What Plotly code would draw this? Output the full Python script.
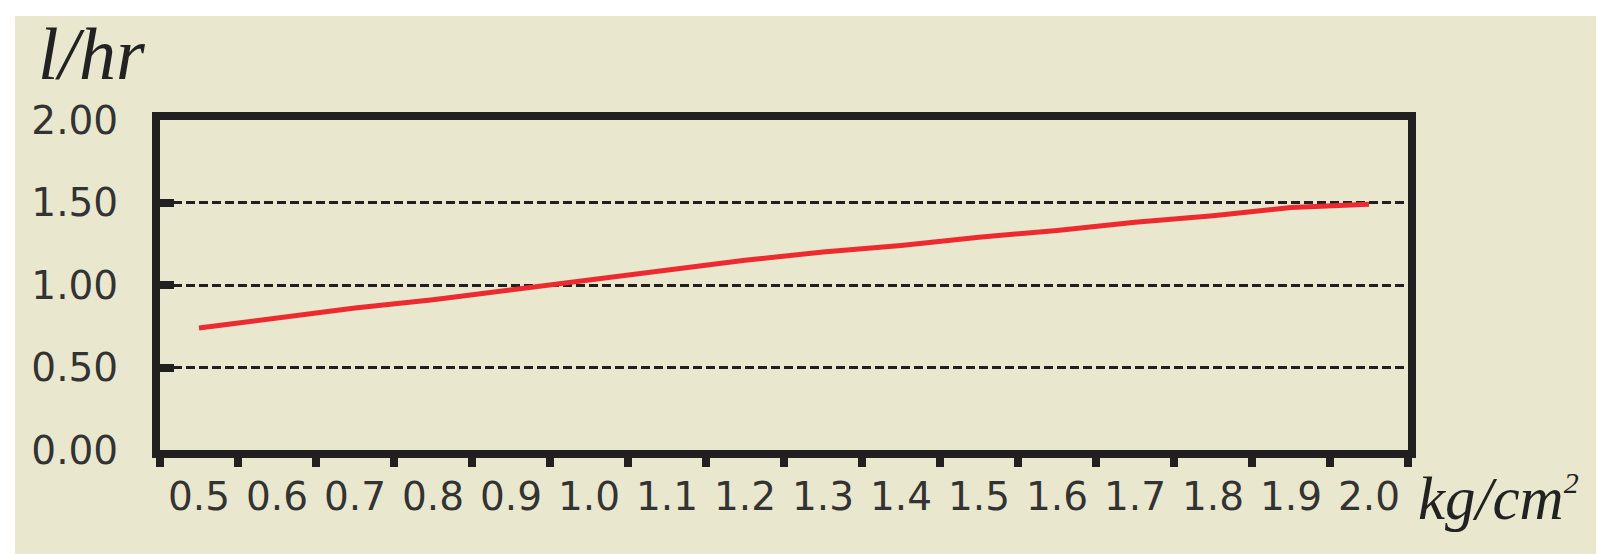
import plotly.graph_objects as go

categories = ["0.5", "0.6", "0.7", "0.8", "0.9", "1.0", "1.1", "1.2",
              "1.3", "1.4", "1.5", "1.6", "1.7", "1.8", "1.9", "2.0"]
flow = [0.74, 0.80, 0.86, 0.91, 0.97, 1.03, 1.09, 1.15,
        1.20, 1.24, 1.29, 1.33, 1.38, 1.42, 1.47, 1.49]
y_ticks = [0.0, 0.5, 1.0, 1.5, 2.0]
y_ticklabels = ["0.00", "0.50", "1.00", "1.50", "2.00"]

W, H = 1604, 554
L, R, T, B = 152, 1400, 112, 442
BG = "#E9E8CE"
INK = "#231F20"

def px(x):
    return (x - L) / (R - L)

def py(y):
    return (B - y) / (B - T)

fig = go.Figure()
fig.add_trace(go.Scatter(
    x=categories, y=flow, mode="lines",
    line=dict(color="#EC2A2F", width=5),
    hoverinfo="skip", showlegend=False,
))

tick_font = dict(family="DejaVu Sans", size=39, color="#333333")

fig.update_layout(
    width=W, height=H,
    margin=dict(l=L, r=W - R, t=T, b=H - B, pad=0),
    paper_bgcolor=BG, plot_bgcolor=BG,
    showlegend=False,
    xaxis=dict(
        type="category", range=[-0.5, len(categories) - 0.5],
        showline=True, linewidth=8, linecolor=INK, mirror=True,
        ticks="outside", tickson="boundaries", ticklen=9, tickwidth=8, tickcolor=INK,
        showgrid=False, zeroline=False,
        tickfont=tick_font, tickangle=0,
        ticklabelstandoff=5,
    ),
    yaxis=dict(
        range=[0, 2], tickvals=y_ticks, ticktext=y_ticklabels,
        showline=True, linewidth=8, linecolor=INK, mirror=True,
        ticks="inside", ticklen=14, tickwidth=8, tickcolor=INK,
        showgrid=True, gridcolor=INK, gridwidth=2.5, griddash="9px,4px",
        zeroline=False,
        tickfont=tick_font,
        ticklabelstandoff=26,
    ),
    shapes=[
        dict(type="rect", xref="paper", yref="paper", x0=px(0), x1=px(W + 5),
             y0=py(8), y1=py(-5), fillcolor="white", line=dict(width=0), layer="below"),
        dict(type="rect", xref="paper", yref="paper", x0=px(-5), x1=px(7),
             y0=py(H + 5), y1=py(-5), fillcolor="white", line=dict(width=0), layer="below"),
    ],
    annotations=[
        dict(text="l/hr", xref="paper", yref="paper", x=px(28), y=py(46),
             xanchor="left", yanchor="middle", showarrow=False,
             font=dict(family="Liberation Serif, Times New Roman", size=74, color="#222222",
                       style="italic")),
        dict(text="kg/cm<sup><span style='font-size:30px'>2</span></sup>",
             xref="paper", yref="paper", x=px(1408), y=py(490),
             xanchor="left", yanchor="middle", showarrow=False,
             font=dict(family="Liberation Serif, Times New Roman", size=61, color="#222222",
                       style="italic")),
    ],
)

fig.write_html("out.html")
